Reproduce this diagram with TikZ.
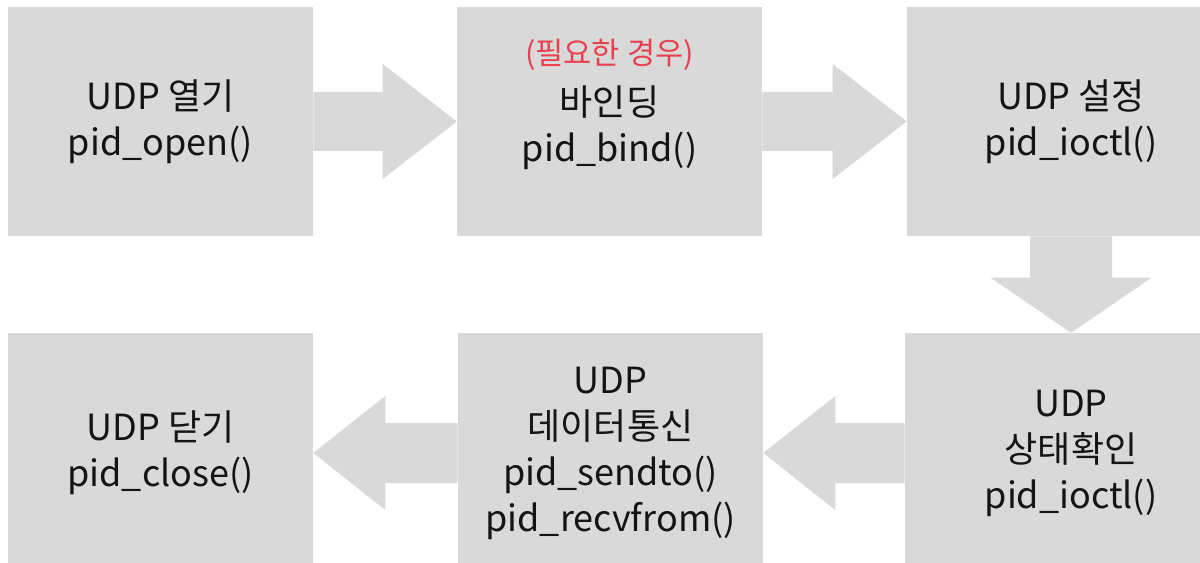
\documentclass[tikz,border=0pt]{standalone}
\usepackage{fontspec}
\setmainfont{Noto Sans CJK KR}
\usetikzlibrary{calc}
\definecolor{boxgray}{RGB}{217,217,217}
\definecolor{txt}{RGB}{20,20,20}
\definecolor{note}{RGB}{232,64,78}
% block arrow: from anchor #1 to tip anchor #2, shaft half-width #3, head half-width #4, head length #5
\newcommand{\harrow}[5]{%
  \fill[boxgray] ($(#1)+(0,-#3)$) -- ($(#2)+(#5,-#3)$) -- ($(#2)+(#5,-#4)$) -- (#2)
    -- ($(#2)+(#5,#4)$) -- ($(#2)+(#5,#3)$) -- ($(#1)+(0,#3)$) -- cycle;}
\newcommand{\varrow}[5]{%
  \fill[boxgray] ($(#1)+(-#3,0)$) -- ($(#2)+(-#3,#5)$) -- ($(#2)+(-#4,#5)$) -- (#2)
    -- ($(#2)+(#4,#5)$) -- ($(#2)+(#3,#5)$) -- ($(#1)+(#3,0)$) -- cycle;}
\begin{document}
\begin{tikzpicture}[x=0.75pt,y=-0.75pt,
  stage/.style={fill=boxgray, draw=none, inner sep=0pt, text=txt, align=center,
    font=\fontsize{27pt}{34.5pt}\selectfont},
  topbox/.style={stage, minimum height=171.75pt},
  lowbox/.style={stage, minimum height=180pt},
  notetext/.style={text=note, inner sep=0pt, font=\fontsize{23pt}{27pt}\selectfont},
  bodytext/.style={text=txt, inner sep=0pt, align=center, font=\fontsize{27pt}{34.5pt}\selectfont}]
\useasboundingbox[fill=white] (0,0) rectangle (1200,563);
\clip (0,0) rectangle (1200,563);

% top row
\node[topbox, minimum width=228.75pt] (open) at (160.5,121.5) {UDP 열기\\pid\_open()};
\node[topbox, minimum width=228.75pt] (bind) at (609.5,121.5) {};
\node[bodytext] (bindtxt) at (609.5,128) {바인딩\\pid\_bind()};
\node[notetext] (bindnote) at (609.5,55) {(필요한 경우)};
\node[topbox, minimum width=246pt] (setup) at (1071,121.5) {UDP 설정\\pid\_ioctl()};

% bottom row
\node[lowbox, minimum width=228.75pt] (close) at (160.5,453) {UDP 닫기\\pid\_close()};
\node[lowbox, minimum width=228.75pt] (data) at (610.5,453) {UDP\\데이터통신\\pid\_sendto()\\pid\_recvfrom()};
\node[lowbox, minimum width=249pt] (status) at (1071,453) {UDP\\상태확인\\pid\_ioctl()};

% block arrows
\harrow{open.east}{bind.west}{29.5}{57.5}{-74}
\harrow{bind.east}{setup.west}{29.5}{57.5}{-74}
\varrow{setup.south}{status.north}{41}{80.5}{-55}
\harrow{status.west}{data.east}{30}{57}{72}
\harrow{data.west}{close.east}{30}{57}{72}
\end{tikzpicture}
\end{document}
